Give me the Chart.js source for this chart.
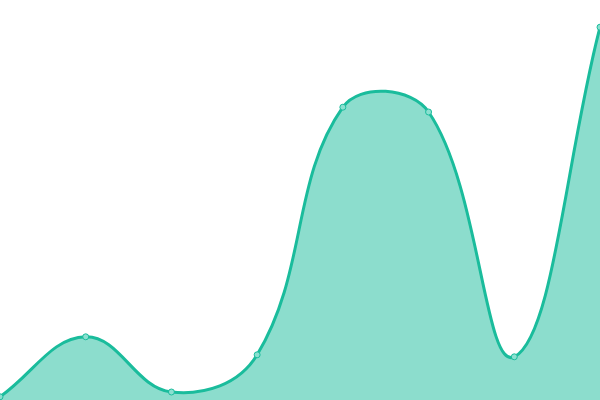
<!DOCTYPE html>
<html>
<head>
<meta charset="utf-8">
<script src="https://cdn.jsdelivr.net/npm/chart.js@4"></script>
<style>
    html, body { margin: 0; padding: 0; background: #fff; }
    #wrap { width: 600px; height: 400px; }
</style>
</head>
<body>
<div id="wrap"><canvas id="chart"></canvas></div>
<script>
var labels = ['1', '2', '3', '4', '5', '6', '7', '8'];
var values = [0.8, 15.8, 2, 11.3, 73.2, 72, 10.8, 93.2];

var ctx = document.getElementById('chart').getContext('2d');
new Chart(ctx, {
    type: 'line',
    data: {
        labels: labels,
        datasets: [{
            data: values,
            fill: true,
            backgroundColor: 'rgba(26, 188, 156, 0.5)',
            borderColor: '#1abc9c',
            borderWidth: 3,
            tension: 0.4,
            pointRadius: 3,
            pointBorderWidth: 1,
            pointBackgroundColor: '#8be0d0',
            pointBorderColor: '#1abc9c'
        }]
    },
    options: {
        responsive: true,
        maintainAspectRatio: false,
        animation: false,
        layout: { padding: 0, autoPadding: false },
        plugins: {
            legend: { display: false },
            tooltip: { enabled: false }
        },
        scales: {
            x: { display: false, offset: false },
            y: { display: false, min: 0, max: 100 }
        }
    }
});
</script>
</body>
</html>
